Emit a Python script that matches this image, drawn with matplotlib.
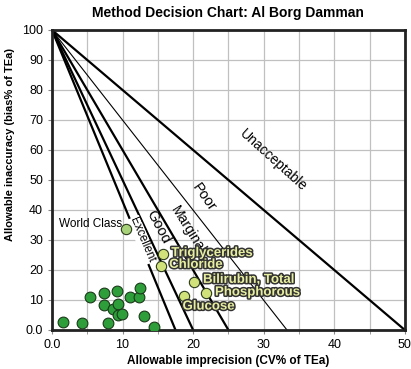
import numpy as np
import matplotlib.pyplot as plt
import matplotlib.patheffects as pe

plt.rcParams['font.family'] = ['Liberation Sans', 'DejaVu Sans']

# x-intercepts of the decision lines (all start at 0, 100)
line_ends = [50, 33.3, 25, 20, 17.5]
line_widths = [1.6, 0.8, 1.6, 1.6, 1.6]
zone_names = ["Unacceptable", "Poor", "Marginal", "Good", "Excellent"]

# unlabeled method points
dark_x = [1.5, 4.2, 8.0, 5.4, 7.3, 7.3, 8.6, 9.2, 9.3, 9.3, 9.9, 11.0, 12.4, 12.5, 13.1, 14.4]
dark_y = [2.6, 2.2, 2.2, 10.9, 12.2, 8.3, 7.1, 13.0, 8.6, 5.0, 5.2, 10.9, 10.9, 14.1, 4.8, 1.0]

# labeled analytes
names = ["Triglycerides", "Chloride", "Bilirubin, Total", "Phosphorous", "Glucose"]
lab_x = [15.8, 15.5, 20.1, 21.8, 18.7]
lab_y = [25.3, 21.4, 16.1, 12.2, 11.4]

world_x, world_y = 10.5, 33.6

fig = plt.figure(figsize=(4.11, 3.69), dpi=100)
ax = fig.add_axes([0.1265, 0.1057, 0.8585, 0.813])

for end, lw in zip(line_ends, line_widths):
    ax.plot([0, end], [100, 0], color='black', lw=lw, zorder=2)

# zone labels along the lines
ax.text(31.3, 56.5, "Unacceptable", rotation=-42, fontsize=10, ha='center', va='center')
ax.text(21.5, 44.3, "Poor", rotation=-55, fontsize=10.5, ha='center', va='center')
ax.text(19.3, 33.5, "Marginal", rotation=-58, fontsize=10, ha='center', va='center')
ax.text(15.1, 34.3, "Good", rotation=-62, fontsize=10.5, ha='center', va='center')
ax.text(12.8, 30.0, "Excellent", rotation=-67, fontsize=8.5, ha='center', va='center',
        bbox=dict(boxstyle='square,pad=0.05', fc='white', ec='none'), zorder=3)

ax.scatter(dark_x, dark_y, s=60, color='#2e9e3a', edgecolor='#1a3a1a', lw=0.8, zorder=4)
ax.scatter(lab_x, lab_y, s=55, color='#d2e27a', edgecolor='#2a3a1a', lw=0.8, zorder=4)
ax.scatter([world_x], [world_y], s=55, color='#a8d27a', edgecolor='#2a3a1a', lw=0.8, zorder=4)

ax.text(world_x - 0.6, world_y + 1.6, "World Class", fontsize=8.5, ha='right', va='center')

outline = [pe.withStroke(linewidth=2.2, foreground='#333333')]
offsets = [(1.1, 0.3), (1.1, 0.3), (1.3, 0.6), (1.3, 0.3), (-0.2, -3.6)]
for n, x, y, (dx, dy) in zip(names, lab_x, lab_y, offsets):
    ax.text(x + dx, y + dy, n, fontsize=9.5, fontweight='bold', color='#e8eea0',
            ha='left', va='center', path_effects=outline, zorder=5)

ax.set_xlim(0, 50)
ax.set_ylim(0, 100)
ax.set_xticks(np.arange(0, 51, 10))
ax.set_xticklabels(["0.0", "10", "20", "30", "40", "50"])
ax.set_yticks(np.arange(0, 101, 10))
ax.set_yticklabels(["0.0"] + [str(v) for v in range(10, 101, 10)])
ax.set_xticks(np.arange(0, 51, 5), minor=True)
ax.grid(True, which='both', color='#c0c0c0', lw=0.9, zorder=0)
ax.tick_params(labelsize=9, length=3, color='#888888')
ax.tick_params(which='minor', length=3, color='#888888')
for s in ax.spines.values():
    s.set_linewidth(2)
    s.set_color('#222222')

ax.set_title("Method Decision Chart: Al Borg Damman", fontsize=10, fontweight='bold', pad=9)
ax.set_xlabel("Allowable imprecision (CV% of TEa)", fontsize=8.5, fontweight='bold', labelpad=3)
ax.set_ylabel("Allowable inaccuracy (bias% of TEa)", fontsize=8, fontweight='bold')
ax.yaxis.set_label_coords(-0.105, 0.617)

fig.savefig("out.png", dpi=100)
